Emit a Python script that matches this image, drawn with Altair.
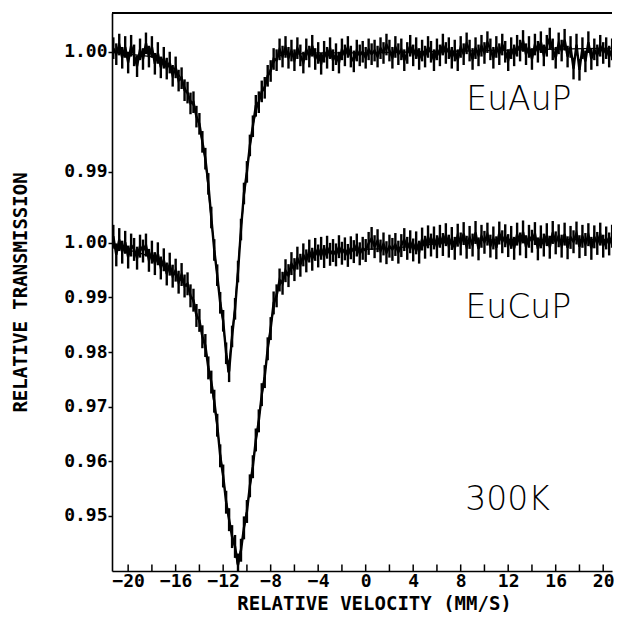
import altair as alt
import pandas as pd

# Channel velocities (mm/s)
VELOCITY = [
    -21.25, -21.0, -20.75, -20.5, -20.25, -20.0, -19.75, -19.5,
    -19.25, -19.0, -18.75, -18.5, -18.25, -18.0, -17.75, -17.5,
    -17.25, -17.0, -16.75, -16.5, -16.25, -16.0, -15.75, -15.5,
    -15.25, -15.0, -14.75, -14.5, -14.25, -14.0, -13.75, -13.5,
    -13.25, -13.0, -12.75, -12.5, -12.25, -12.0, -11.75, -11.5,
    -11.25, -11.0, -10.75, -10.5, -10.25, -10.0, -9.75, -9.5,
    -9.25, -9.0, -8.75, -8.5, -8.25, -8.0, -7.75, -7.5,
    -7.25, -7.0, -6.75, -6.5, -6.25, -6.0, -5.75, -5.5,
    -5.25, -5.0, -4.75, -4.5, -4.25, -4.0, -3.75, -3.5,
    -3.25, -3.0, -2.75, -2.5, -2.25, -2.0, -1.75, -1.5,
    -1.25, -1.0, -0.75, -0.5, -0.25, 0.0, 0.25, 0.5,
    0.75, 1.0, 1.25, 1.5, 1.75, 2.0, 2.25, 2.5,
    2.75, 3.0, 3.25, 3.5, 3.75, 4.0, 4.25, 4.5,
    4.75, 5.0, 5.25, 5.5, 5.75, 6.0, 6.25, 6.5,
    6.75, 7.0, 7.25, 7.5, 7.75, 8.0, 8.25, 8.5,
    8.75, 9.0, 9.25, 9.5, 9.75, 10.0, 10.25, 10.5,
    10.75, 11.0, 11.25, 11.5, 11.75, 12.0, 12.25, 12.5,
    12.75, 13.0, 13.25, 13.5, 13.75, 14.0, 14.25, 14.5,
    14.75, 15.0, 15.25, 15.5, 15.75, 16.0, 16.25, 16.5,
    16.75, 17.0, 17.25, 17.5, 17.75, 18.0, 18.25, 18.5,
    18.75, 19.0, 19.25, 19.5, 19.75, 20.0, 20.25, 20.5,
    20.75,
]

# EuAuP measured relative transmission
EUAUP_T = [
    1.0003, 0.9998, 1.0006, 0.9995, 1.0004, 0.9991, 1.0005, 0.9997,
    0.9988, 1.0002, 0.9994, 1.0007, 0.9996, 1.0004, 0.9990, 0.9999,
    0.9987, 0.9995, 0.9986, 0.9991, 0.9980, 0.9987, 0.9976, 0.9978,
    0.9968, 0.9966, 0.9957, 0.9958, 0.9946, 0.9940, 0.9925, 0.9911,
    0.9890, 0.9862, 0.9835, 0.9814, 0.9791, 0.9776, 0.9749, 0.9734,
    0.9763, 0.9786, 0.9817, 0.9852, 0.9882, 0.9900, 0.9922, 0.9938,
    0.9955, 0.9958, 0.9967, 0.9970, 0.9980, 0.9984, 0.9994, 0.9993,
    1.0002, 0.9996, 1.0004, 0.9995, 1.0001, 0.9993, 1.0003, 0.9997,
    0.9991, 1.0002, 0.9996, 1.0005, 0.9994, 0.9999, 0.9990, 1.0000,
    0.9995, 1.0003, 0.9993, 0.9998, 0.9991, 1.0002, 0.9997, 1.0004,
    0.9996, 0.9992, 1.0001, 0.9997, 1.0000, 0.9995, 1.0002, 0.9998,
    1.0001, 0.9996, 1.0003, 0.9999, 1.0006, 1.0001, 0.9995, 1.0004,
    0.9998, 1.0002, 0.9993, 0.9999, 1.0005, 0.9997, 1.0003, 0.9994,
    1.0001, 0.9996, 1.0004, 1.0000, 0.9993, 1.0002, 0.9997, 1.0006,
    0.9999, 1.0003, 0.9995, 1.0001, 0.9993, 1.0004, 0.9998, 1.0007,
    1.0001, 0.9994, 1.0003, 0.9997, 1.0005, 0.9999, 1.0008, 1.0002,
    0.9995, 1.0004, 0.9998, 1.0006, 1.0000, 0.9993, 1.0003, 0.9997,
    1.0005, 1.0001, 1.0009, 0.9998, 1.0004, 0.9994, 1.0006, 1.0000,
    1.0008, 0.9997, 1.0005, 1.0011, 1.0002, 0.9995, 1.0007, 1.0001,
    1.0010, 0.9996, 1.0004, 0.9986, 1.0006, 0.9985, 1.0003, 0.9992,
    1.0008, 0.9994, 1.0002, 0.9997, 1.0005, 0.9999, 1.0003, 0.9996,
    1.0002,
]

# EuCuP measured relative transmission
EUCUP_T = [
    1.0012, 0.9978, 1.0006, 0.9983, 1.0001, 0.9974, 0.9996, 0.9988,
    0.9972, 0.9994, 0.9985, 0.9996, 0.9968, 0.9983, 0.9962, 0.9980,
    0.9954, 0.9969, 0.9943, 0.9961, 0.9939, 0.9950, 0.9928, 0.9942,
    0.9921, 0.9925, 0.9903, 0.9895, 0.9867, 0.9858, 0.9828, 0.9812,
    0.9771, 0.9745, 0.9710, 0.9666, 0.9610, 0.9573, 0.9525, 0.9493,
    0.9462, 0.9444, 0.9410, 0.9437, 0.9478, 0.9508, 0.9555, 0.9590,
    0.9639, 0.9674, 0.9722, 0.9755, 0.9806, 0.9843, 0.9890, 0.9903,
    0.9932, 0.9926, 0.9949, 0.9940, 0.9962, 0.9951, 0.9972, 0.9959,
    0.9978, 0.9967, 0.9985, 0.9970, 0.9988, 0.9976, 0.9990, 0.9975,
    0.9992, 0.9979, 0.9986, 0.9978, 0.9993, 0.9981, 0.9989, 0.9977,
    0.9991, 0.9984, 0.9996, 0.9980, 0.9990, 0.9986, 0.9999, 1.0008,
    0.9993, 1.0004, 0.9985, 0.9998, 0.9982, 0.9994, 0.9988, 0.9997,
    0.9983, 0.9995, 1.0006, 0.9990, 1.0002, 0.9987, 1.0000, 0.9983,
    1.0007, 0.9992, 1.0011, 0.9996, 1.0009, 0.9993, 1.0012, 0.9997,
    1.0015, 0.9994, 1.0008, 0.9990, 1.0014, 0.9998, 1.0017, 0.9992,
    1.0010, 0.9996, 1.0019, 0.9989, 1.0012, 1.0001, 1.0016, 0.9994,
    1.0009, 0.9991, 1.0018, 1.0002, 1.0013, 0.9995, 1.0010, 0.9990,
    1.0016, 0.9998, 1.0020, 0.9993, 1.0012, 1.0003, 1.0017, 0.9989,
    1.0011, 0.9996, 1.0015, 0.9992, 1.0019, 1.0000, 1.0013, 0.9994,
    1.0016, 0.9991, 1.0010, 1.0002, 1.0018, 0.9993, 1.0012, 0.9997,
    1.0015, 0.9990, 1.0011, 0.9999, 1.0016, 0.9994, 1.0009, 0.9998,
    1.0012,
]

# Fitted curves
EUAUP_FIT_V = [-21.3, -20, -18, -17, -16, -15.5, -15, -14.5, -14, -13.5, -13,
               -12.5, -12, -11.75, -11.6, -11.4, -11.2, -11, -10.5, -10, -9.5,
               -9, -8.5, -8, -7.5, -7, -6, -4, 0, 5, 10, 15, 20.8]
EUAUP_FIT_T = [1.0000, 0.9998, 0.9996, 0.9992, 0.9985, 0.9977, 0.9965, 0.9955,
               0.9938, 0.9910, 0.9860, 0.9813, 0.9774, 0.9750, 0.9733, 0.9750,
               0.9770, 0.9788, 0.9853, 0.9902, 0.9939, 0.9959, 0.9972, 0.9986,
               0.9995, 0.9998, 0.9998, 0.9999, 0.9999, 1.0000, 1.0001, 1.0002,
               1.0003]
EUCUP_FIT_V = [-21.3, -20, -19, -18, -17, -16, -15, -14.5, -14, -13.5, -13,
               -12.5, -12, -11.5, -11, -10.8, -10.5, -10, -9.5, -9, -8.5, -8,
               -7.5, -7, -6, -5, -4, -2, 0, 2, 5, 8, 12, 20.8]
EUCUP_FIT_T = [0.9991, 0.9987, 0.9981, 0.9974, 0.9957, 0.9941, 0.9919, 0.9891,
               0.9854, 0.9809, 0.9743, 0.9663, 0.9570, 0.9491, 0.9441, 0.9411,
               0.9441, 0.9511, 0.9593, 0.9678, 0.9759, 0.9848, 0.9909, 0.9933,
               0.9959, 0.9974, 0.9981, 0.9985, 0.9988, 0.9990, 0.9996, 1.0004,
               1.0006, 1.0006]

# Error bar half-widths (transmission units)
AU_ERR = 0.0009
CU_ERR = 0.0021

# EuAuP spectrum is drawn offset and expanded above EuCuP
AU_OFFSET = 1.035
AU_SCALE = 2.2

Y_TICKS_CU = [0.95, 0.96, 0.97, 0.98, 0.99, 1.00]
Y_TICKS_AU = [0.99, 1.00]
X_LABELS = [-20, -16, -12, -8, -4, 0, 4, 8, 12, 16, 20]
X_TICKS = [-20, -18, -16, -14, -12, -10, -8, -6, -4, -2, 0, 2, 4, 6, 8,
           10, 12, 14, 16, 18, 20]

LABELS = ["EuAuP", "EuCuP", "300K"]
LABEL_V = [12.9, 12.85, 11.95]
LABEL_Y = [1.0262, 0.9881, 0.9529]

X_DOMAIN = [-21.36, 20.74]
Y_DOMAIN = [0.9399, 1.0421]


def au_plot(t):
    return AU_OFFSET + (t - 1.0) * AU_SCALE


rows = []
for v, t in zip(VELOCITY, EUAUP_T):
    y = au_plot(t)
    rows.append({"v": v, "y": y, "ylo": y - AU_ERR * AU_SCALE,
                 "yhi": y + AU_ERR * AU_SCALE, "series": "EuAuP"})
for v, t in zip(VELOCITY, EUCUP_T):
    rows.append({"v": v, "y": t, "ylo": t - CU_ERR, "yhi": t + CU_ERR,
                 "series": "EuCuP"})
assert len(VELOCITY) == len(EUAUP_T) == len(EUCUP_T)
data = pd.DataFrame(rows)

fit_rows = [{"v": v, "y": au_plot(t), "series": "EuAuP"}
            for v, t in zip(EUAUP_FIT_V, EUAUP_FIT_T)]
fit_rows += [{"v": v, "y": t, "series": "EuCuP"}
             for v, t in zip(EUCUP_FIT_V, EUCUP_FIT_T)]
fit = pd.DataFrame(fit_rows)

y_values = Y_TICKS_CU + [round(au_plot(t), 4) for t in Y_TICKS_AU]

AXIS_FONT = "DejaVu Sans Mono"

x_scale = alt.Scale(domain=X_DOMAIN, nice=False, zero=False)
y_scale = alt.Scale(domain=Y_DOMAIN, nice=False, zero=False)

x_axis = alt.Axis(
    title="RELATIVE VELOCITY (MM/S)", values=X_LABELS, format="d",
    tickSize=0, labelPadding=1, labelFont=AXIS_FONT, labelFontSize=18,
    labelFontWeight="bold", titleFont=AXIS_FONT, titleFontSize=19,
    titleFontWeight="bold", titleX=262, titleY=32, titleBaseline="middle",
    grid=False, labelFlush=False,
)
y_axis = alt.Axis(
    title="RELATIVE TRANSMISSION", values=y_values,
    labelExpr=("datum.value > 1.005 ? format(1 + (datum.value - %s)/%s, '.2f')"
               " : format(datum.value, '.2f')") % (AU_OFFSET, AU_SCALE),
    tickSize=4, labelPadding=1, labelFont=AXIS_FONT, labelFontSize=18,
    labelFontWeight="bold", titleFont=AXIS_FONT, titleFontSize=19,
    titleFontWeight="bold", titleX=-92, titleBaseline="middle",
    grid=False, labelFlush=False,
)

X = alt.X("v:Q", scale=x_scale, axis=x_axis)
Y = alt.Y("y:Q", scale=y_scale, axis=y_axis)

base = alt.Chart(data)

errbars = base.mark_rule(color="black", strokeWidth=2.4, clip=True).encode(
    x=X, y=alt.Y("ylo:Q", scale=y_scale, axis=y_axis), y2="yhi:Q",
)
points = base.mark_line(color="black", strokeWidth=2.4, clip=True).encode(
    x=X, y=Y, detail="series:N",
)
fit_line = alt.Chart(fit).mark_line(color="black", strokeWidth=1.3,
                                    clip=True).encode(
    x=X, y=Y, detail="series:N",
)

frame = pd.DataFrame({"v": [X_DOMAIN[0]], "v2": [X_DOMAIN[1]],
                      "y": [Y_DOMAIN[1]]})
top_line = alt.Chart(frame).mark_rule(color="black", strokeWidth=2).encode(
    x=X, x2="v2:Q", y=Y,
)

ticks = pd.DataFrame({"v": X_TICKS, "y": [Y_DOMAIN[0]] * len(X_TICKS),
                      "y2": [Y_DOMAIN[0] + 0.0012] * len(X_TICKS)})
x_ticks = alt.Chart(ticks).mark_rule(color="black", strokeWidth=1.5).encode(
    x=X, y=Y, y2="y2:Q",
)

labels = pd.DataFrame({"text": LABELS, "v": LABEL_V, "y": LABEL_Y})
texts = alt.Chart(labels).mark_text(
    font="DejaVu Sans", fontSize=33, fontWeight=200, color="black",
    align="center", baseline="middle",
).encode(x=X, y=Y, text="text:N")

chart = alt.layer(errbars, points, fit_line, top_line, x_ticks, texts).properties(
    width=500, height=558,
    autosize=alt.AutoSizeParams(type="none"),
    padding={"left": 104, "top": 5, "right": 3, "bottom": 41},
    background="white",
).configure_view(stroke=None).configure_axis(
    domainColor="black", domainWidth=1.6, tickColor="black", tickWidth=1.5,
    labelColor="black", titleColor="black",
)

chart.save("out.html", embed_options={"renderer": "svg", "actions": False})
